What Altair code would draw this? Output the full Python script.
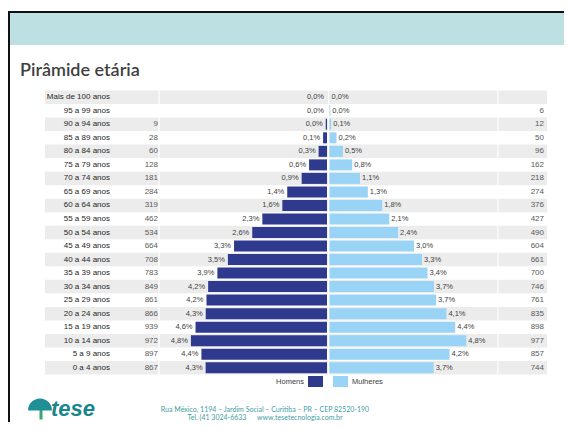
import altair as alt
import pandas as pd

ages = ["Mais de 100 anos", "95 a 99 anos", "90 a 94 anos", "85 a 89 anos", "80 a 84 anos",
        "75 a 79 anos", "70 a 74 anos", "65 a 69 anos", "60 a 64 anos", "55 a 59 anos",
        "50 a 54 anos", "45 a 49 anos", "40 a 44 anos", "35 a 39 anos", "30 a 34 anos",
        "25 a 29 anos", "20 a 24 anos", "15 a 19 anos", "10 a 14 anos", "5 a 9 anos", "0 a 4 anos"]
men_count = [None, None, 9, 28, 60, 128, 181, 284, 319, 462, 534, 664, 708, 783, 849, 861,
             866, 939, 972, 897, 867]
women_count = [None, 6, 12, 50, 96, 162, 218, 274, 376, 427, 490, 604, 661, 700, 746, 761,
               835, 898, 977, 857, 744]
men_pct = [0.0, 0.0, 0.0, 0.1, 0.3, 0.6, 0.9, 1.4, 1.6, 2.3, 2.6, 3.3, 3.5, 3.9, 4.2, 4.2,
           4.3, 4.6, 4.8, 4.4, 4.3]
women_pct = [0.0, 0.0, 0.1, 0.2, 0.5, 0.8, 1.1, 1.3, 1.8, 2.1, 2.4, 3.0, 3.3, 3.4, 3.7, 3.7,
             4.1, 4.4, 4.8, 4.2, 3.7]
legend_labels = ["Homens", "Mulheres"]
title_text = ["Pirâmide etária"]
logo_text = ["tese"]
footer_lines = ["Rua México, 1194 – Jardim Social – Curitiba – PR – CEP 82520-190",
                "Tel. (41 3024-6633\u00a0\u00a0\u00a0\u00a0\u00a0\u00a0www.tesetecnologia.com.br"]

MEN = "#2f3a8f"
WOMEN = "#99d3f5"
TEAL = "#bde0e3"
STRIPE = "#ececec"
FONT = "Liberation Sans"
W, H = 502, 284

df = pd.DataFrame({
    "age": ages,
    "row": list(range(len(ages))),
    "men": men_count,
    "women": women_count,
    "mp": men_pct,
    "wp": women_pct,
})
one = pd.DataFrame({"k": [0]})
leg = pd.DataFrame({"sex": legend_labels})
tdf = pd.DataFrame({"t": title_text})
ldf = pd.DataFrame({"t": logo_text})
fdf = pd.DataFrame({"t": footer_lines, "i": [0, 1]})

Y = alt.Y("age:N", sort=ages, axis=None, scale=alt.Scale(paddingInner=0, paddingOuter=0))
XS = alt.Scale(domain=[-2021.4, 1564.3], nice=False, zero=False)
col = alt.Color("sex:N", scale=alt.Scale(domain=legend_labels, range=[MEN, WOMEN]), legend=None)

layers = []

# top frame + teal band
layers.append(alt.Chart(one).mark_rect(color=TEAL).encode(
    x=alt.value(-35), x2=alt.value(W + 17), y=alt.value(-77.5), y2=alt.value(-45.5)))
layers.append(alt.Chart(one).mark_rect(color="#111111").encode(
    x=alt.value(-37), x2=alt.value(W + 17), y=alt.value(-79.5), y2=alt.value(-77.5)))
layers.append(alt.Chart(one).mark_rect(color="#111111").encode(
    x=alt.value(-37), x2=alt.value(-35), y=alt.value(-79.5), y2=alt.value(H + 48)))

# title
layers.append(alt.Chart(tdf).mark_text(align="left", baseline="alphabetic", font="Lato",
                                        fontSize=18, fontWeight=600, color="#3f3f3f").encode(
    x=alt.value(-25), y=alt.value(-14.5), text="t:N"))

# stripes
layers.append(alt.Chart(df).transform_filter("datum.row % 2 == 0").mark_rect(color=STRIPE).encode(
    y=Y, x=alt.value(0), x2=alt.value(W)))
for xv in [114, 283.5, 453]:
    layers.append(alt.Chart(one).mark_rule(color="white", strokeWidth=1.2).encode(
        x=alt.value(xv), y=alt.value(0), y2=alt.value(H)))

# bars
layers.append(alt.Chart(df).transform_filter("isValid(datum.men)").transform_calculate(
    sex="'Homens'", mx="-datum.men").mark_bar(size=11, xOffset=-1, x2Offset=-1).encode(
    x=alt.X("mx:Q", scale=XS, axis=None), x2=alt.datum(0), y=Y, color=col))
layers.append(alt.Chart(df).transform_filter("isValid(datum.women)").transform_calculate(
    sex="'Mulheres'").mark_bar(size=11, xOffset=1.5, x2Offset=1.5).encode(
    x=alt.X("women:Q", scale=XS, axis=None), x2=alt.datum(0), y=Y, color=col))

# percentage labels
layers.append(alt.Chart(df).transform_calculate(
    mx="isValid(datum.men) ? -datum.men : 0",
    lab="replace(format(datum.mp, '.1f'), '.', ',') + '%'").mark_text(
    align="right", dx=-4, font=FONT, fontSize=7.5, color="#404040").encode(
    x=alt.X("mx:Q", scale=XS, axis=None), y=Y, text="lab:N"))
layers.append(alt.Chart(df).transform_calculate(
    wx="isValid(datum.women) ? datum.women : 0",
    lab="replace(format(datum.wp, '.1f'), '.', ',') + '%'").mark_text(
    align="left", dx=3.5, font=FONT, fontSize=7.5, color="#404040").encode(
    x=alt.X("wx:Q", scale=XS, axis=None), y=Y, text="lab:N"))

# row labels and counts
layers.append(alt.Chart(df).mark_text(align="right", font=FONT, fontSize=8, color="#262626").encode(
    x=alt.value(65), y=Y, text="age:N"))
layers.append(alt.Chart(df).transform_filter("isValid(datum.men)").mark_text(
    align="right", font=FONT, fontSize=8, color="#595959").encode(
    x=alt.value(113), y=Y, text=alt.Text("men:Q", format="d")))
layers.append(alt.Chart(df).transform_filter("isValid(datum.women)").mark_text(
    align="right", font=FONT, fontSize=8, color="#595959").encode(
    x=alt.value(499), y=Y, text=alt.Text("women:Q", format="d")))

# legend
layers.append(alt.Chart(leg).transform_filter("datum.sex == 'Homens'").mark_text(
    align="right", font=FONT, fontSize=7.5, color="#404040").encode(
    x=alt.value(259), y=alt.value(291), text="sex:N"))
layers.append(alt.Chart(leg).transform_filter("datum.sex == 'Homens'").mark_rect().encode(
    x=alt.value(263), x2=alt.value(278), y=alt.value(285.5), y2=alt.value(296.5), color=col))
layers.append(alt.Chart(leg).transform_filter("datum.sex == 'Mulheres'").mark_rect().encode(
    x=alt.value(288), x2=alt.value(303), y=alt.value(285.5), y2=alt.value(296.5), color=col))
layers.append(alt.Chart(leg).transform_filter("datum.sex == 'Mulheres'").mark_text(
    align="left", font=FONT, fontSize=7.5, color="#404040").encode(
    x=alt.value(307), y=alt.value(291), text="sex:N"))

# footer: logo
layers.append(alt.Chart(one).mark_rule(color="#3aa76d", strokeWidth=3).encode(
    x=alt.value(-4), y=alt.value(319), y2=alt.value(329)))
layers.append(alt.Chart(one).mark_arc(radius=12, theta=4.712, theta2=7.854, color="#1f8f96").encode(
    x=alt.value(-5), y=alt.value(320)))
layers.append(alt.Chart(ldf).mark_text(align="left", baseline="alphabetic", font=FONT,
                                        fontSize=22, fontWeight="bold", fontStyle="italic",
                                        color="#17878d").encode(
    x=alt.value(6), y=alt.value(325), text="t:N"))
# footer: address
layers.append(alt.Chart(fdf).transform_filter("datum.i == 0").mark_text(
    align="center", font="Lato", fontSize=7, color="#3f9ca3").encode(
    x=alt.value(220), y=alt.value(319), text="t:N"))
layers.append(alt.Chart(fdf).transform_filter("datum.i == 1").mark_text(
    align="center", font="Lato", fontSize=7, color="#3f9ca3").encode(
    x=alt.value(220), y=alt.value(327.5), text="t:N"))

chart = alt.layer(*layers).properties(
    width=W, height=H,
    padding={"left": 37, "top": 82.5, "right": 17, "bottom": 47.5},
    autosize=alt.AutoSizeParams(type="none"),
).configure_view(stroke=None)

chart.save("out.html", embed_options={"renderer": "svg", "actions": False})
